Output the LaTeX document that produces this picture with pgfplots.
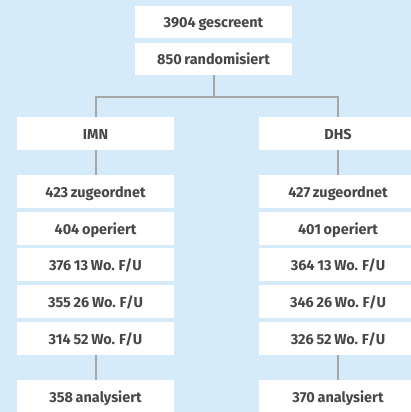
\documentclass[border=0pt]{standalone}
\usepackage{pgfplots}
\pgfplotsset{compat=1.18}
\usepackage{fontspec}
\setmainfont{Fira Sans}[WordSpace=0.8]
\definecolor{bgblue}{HTML}{D5EBF9}
\definecolor{linegray}{HTML}{A6A6A6}
\definecolor{txtgray}{HTML}{474747}
\begin{document}
\begin{tikzpicture}
\begin{axis}[
  width=411bp, height=412bp, scale only axis,
  xmin=0, xmax=411, ymin=0, ymax=412, y dir=reverse,
  hide axis, clip=true,
]
% background
\addplot[fill=bgblue, draw=none] coordinates {(0,0) (411,0) (411,412) (0,412)} -- cycle;
% connector lines
\addplot[linegray, line width=1.4bp] coordinates {(214,75) (214,97)};
\addplot[linegray, line width=1.4bp] coordinates {(96,117) (96,97) (338,97) (338,117)};
\addplot[linegray, line width=1.4bp] coordinates {(96,150) (96,175)};
\addplot[linegray, line width=1.4bp] coordinates {(338,150) (338,175)};
\addplot[linegray, line width=1.4bp] coordinates {(96,355) (96,380)};
\addplot[linegray, line width=1.4bp] coordinates {(338,355) (338,380)};
% top boxes
\addplot[fill=white, draw=none] coordinates {(135,6) (292,6) (292,38) (135,38)} -- cycle;
\addplot[fill=white, draw=none] coordinates {(135,43) (292,43) (292,75) (135,75)} -- cycle;
% left column boxes
\addplot[fill=white, draw=none] coordinates {(17,117) (174,117) (174,150) (17,150)} -- cycle;
\addplot[fill=white, draw=none] coordinates {(17,175) (174,175) (174,208) (17,208)} -- cycle;
\addplot[fill=white, draw=none] coordinates {(17,212) (174,212) (174,245) (17,245)} -- cycle;
\addplot[fill=white, draw=none] coordinates {(17,248) (174,248) (174,281) (17,281)} -- cycle;
\addplot[fill=white, draw=none] coordinates {(17,285) (174,285) (174,318) (17,318)} -- cycle;
\addplot[fill=white, draw=none] coordinates {(17,322) (174,322) (174,355) (17,355)} -- cycle;
\addplot[fill=white, draw=none] coordinates {(17,380) (174,380) (174,413) (17,413)} -- cycle;
% right column boxes
\addplot[fill=white, draw=none] coordinates {(259,117) (416,117) (416,150) (259,150)} -- cycle;
\addplot[fill=white, draw=none] coordinates {(259,175) (416,175) (416,208) (259,208)} -- cycle;
\addplot[fill=white, draw=none] coordinates {(259,212) (416,212) (416,245) (259,245)} -- cycle;
\addplot[fill=white, draw=none] coordinates {(259,248) (416,248) (416,281) (259,281)} -- cycle;
\addplot[fill=white, draw=none] coordinates {(259,285) (416,285) (416,318) (259,318)} -- cycle;
\addplot[fill=white, draw=none] coordinates {(259,322) (416,322) (416,355) (259,355)} -- cycle;
\addplot[fill=white, draw=none] coordinates {(259,380) (416,380) (416,413) (259,413)} -- cycle;
% labels (anchored at baseline)
\begin{scope}[every node/.style={font=\fontsize{14.5}{16}\selectfont\bfseries, text=txtgray, anchor=base, inner sep=0pt}]
\node at (axis cs:213.5,28) {3904 gescreent};
\node at (axis cs:213.5,65) {850 randomisiert};
\node at (axis cs:95.5,139) {IMN};
\node at (axis cs:95.5,197) {423 zugeordnet};
\node at (axis cs:95.5,234) {404 operiert};
\node at (axis cs:95.5,270) {376 13 Wo. F/U};
\node at (axis cs:95.5,307) {355 26 Wo. F/U};
\node at (axis cs:95.5,344) {314 52 Wo. F/U};
\node at (axis cs:95.5,402) {358 analysiert};
\node at (axis cs:338,139) {DHS};
\node at (axis cs:338,197) {427 zugeordnet};
\node at (axis cs:338,234) {401 operiert};
\node at (axis cs:338,270) {364 13 Wo. F/U};
\node at (axis cs:338,307) {346 26 Wo. F/U};
\node at (axis cs:338,344) {326 52 Wo. F/U};
\node at (axis cs:338,402) {370 analysiert};
\end{scope}
\end{axis}
\end{tikzpicture}
\end{document}
